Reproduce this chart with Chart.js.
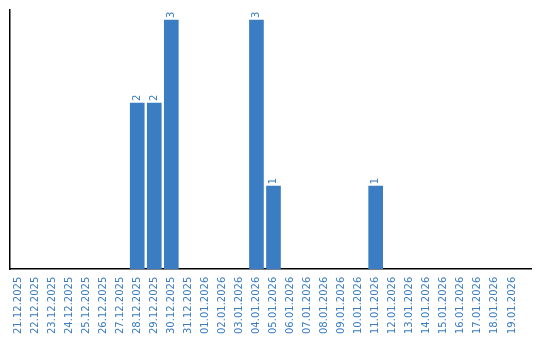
<!DOCTYPE html>
<html>
<head>
<meta charset="utf-8">
<script src="https://cdn.jsdelivr.net/npm/chart.js@4.4.1/dist/chart.umd.min.js"></script>
<style>
  html, body { margin: 0; padding: 0; background: #fff; }
  #wrap { width: 540px; height: 340px; }
</style>
</head>
<body>
<div id="wrap"><canvas id="grafica"></canvas></div>
<script>
// Fechas (categorías) y cantidades por día
const fechas = [
  "21.12.2025", "22.12.2025", "23.12.2025", "24.12.2025", "25.12.2025",
  "26.12.2025", "27.12.2025", "28.12.2025", "29.12.2025", "30.12.2025",
  "31.12.2025", "01.01.2026", "02.01.2026", "03.01.2026", "04.01.2026",
  "05.01.2026", "06.01.2026", "07.01.2026", "08.01.2026", "09.01.2026",
  "10.01.2026", "11.01.2026", "12.01.2026", "13.01.2026", "14.01.2026",
  "15.01.2026", "16.01.2026", "17.01.2026", "18.01.2026", "19.01.2026",
];
const cantidades = [0, 0, 0, 0, 0, 0, 0, 2, 2, 3, 0, 0, 0, 0, 3, 1, 0, 0, 0, 0, 0, 1, 0, 0, 0, 0, 0, 0, 0, 0];

const azulBarra = "#3a7dc3";
const azulTexto = "#3a7cc1";
const fuente = "DejaVu Sans";

// Plugin para escribir el valor encima de cada barra (girado)
const etiquetasValor = {
  id: "etiquetasValor",
  afterDatasetsDraw(chart) {
    const ctx = chart.ctx;
    const meta = chart.getDatasetMeta(0);
    ctx.save();
    ctx.fillStyle = azulTexto;
    ctx.font = "10px '" + fuente + "'";
    ctx.textAlign = "left";
    ctx.textBaseline = "middle";
    meta.data.forEach((bar, i) => {
      const v = cantidades[i];
      if (!v) return;
      ctx.save();
      ctx.translate(bar.x, bar.y - 2);
      ctx.rotate(-Math.PI / 2);
      ctx.fillText(String(v), 0, 0);
      ctx.restore();
    });
    ctx.restore();
  },
};

const ctx = document.getElementById("grafica");
new Chart(ctx, {
  type: "bar",
  data: {
    datasets: [
      {
        data: cantidades.map((v, i) => ({ x: i, y: v })),
        // las barras con cero no se pintan
        backgroundColor: (c) => (c.raw && c.raw.y ? azulBarra : "rgba(0,0,0,0)"),
        borderWidth: 0,
        barThickness: 14,
      },
    ],
  },
  options: {
    responsive: true,
    maintainAspectRatio: false,
    animation: false,
    layout: { padding: { left: 9.5, right: 9, top: 10, bottom: -1.5 } },
    plugins: { legend: { display: false }, tooltip: { enabled: false } },
    scales: {
      x: {
        type: "linear",
        offset: false,
        min: -0.5,
        max: 30.12,
        afterBuildTicks: (axis) => {
          axis.ticks = fechas.map((_, i) => ({ value: i }));
        },
        afterFit: (axis) => {
          axis.paddingLeft = 0;
          axis.paddingRight = 0;
        },
        grid: { display: false, drawTicks: false, offset: false },
        border: { display: true, color: "#000", width: 1.5 },
        ticks: {
          autoSkip: false,
          minRotation: 90,
          maxRotation: 90,
          padding: 7.5,
          color: azulTexto,
          font: { family: fuente, size: 10 },
          callback: (value) => fechas[value],
        },
      },
      y: {
        min: 0,
        max: 3.12,
        grid: { display: false, drawTicks: false },
        border: { display: true, color: "#000", width: 1.5 },
        ticks: { display: false },
      },
    },
  },
  plugins: [etiquetasValor],
});
</script>
</body>
</html>
